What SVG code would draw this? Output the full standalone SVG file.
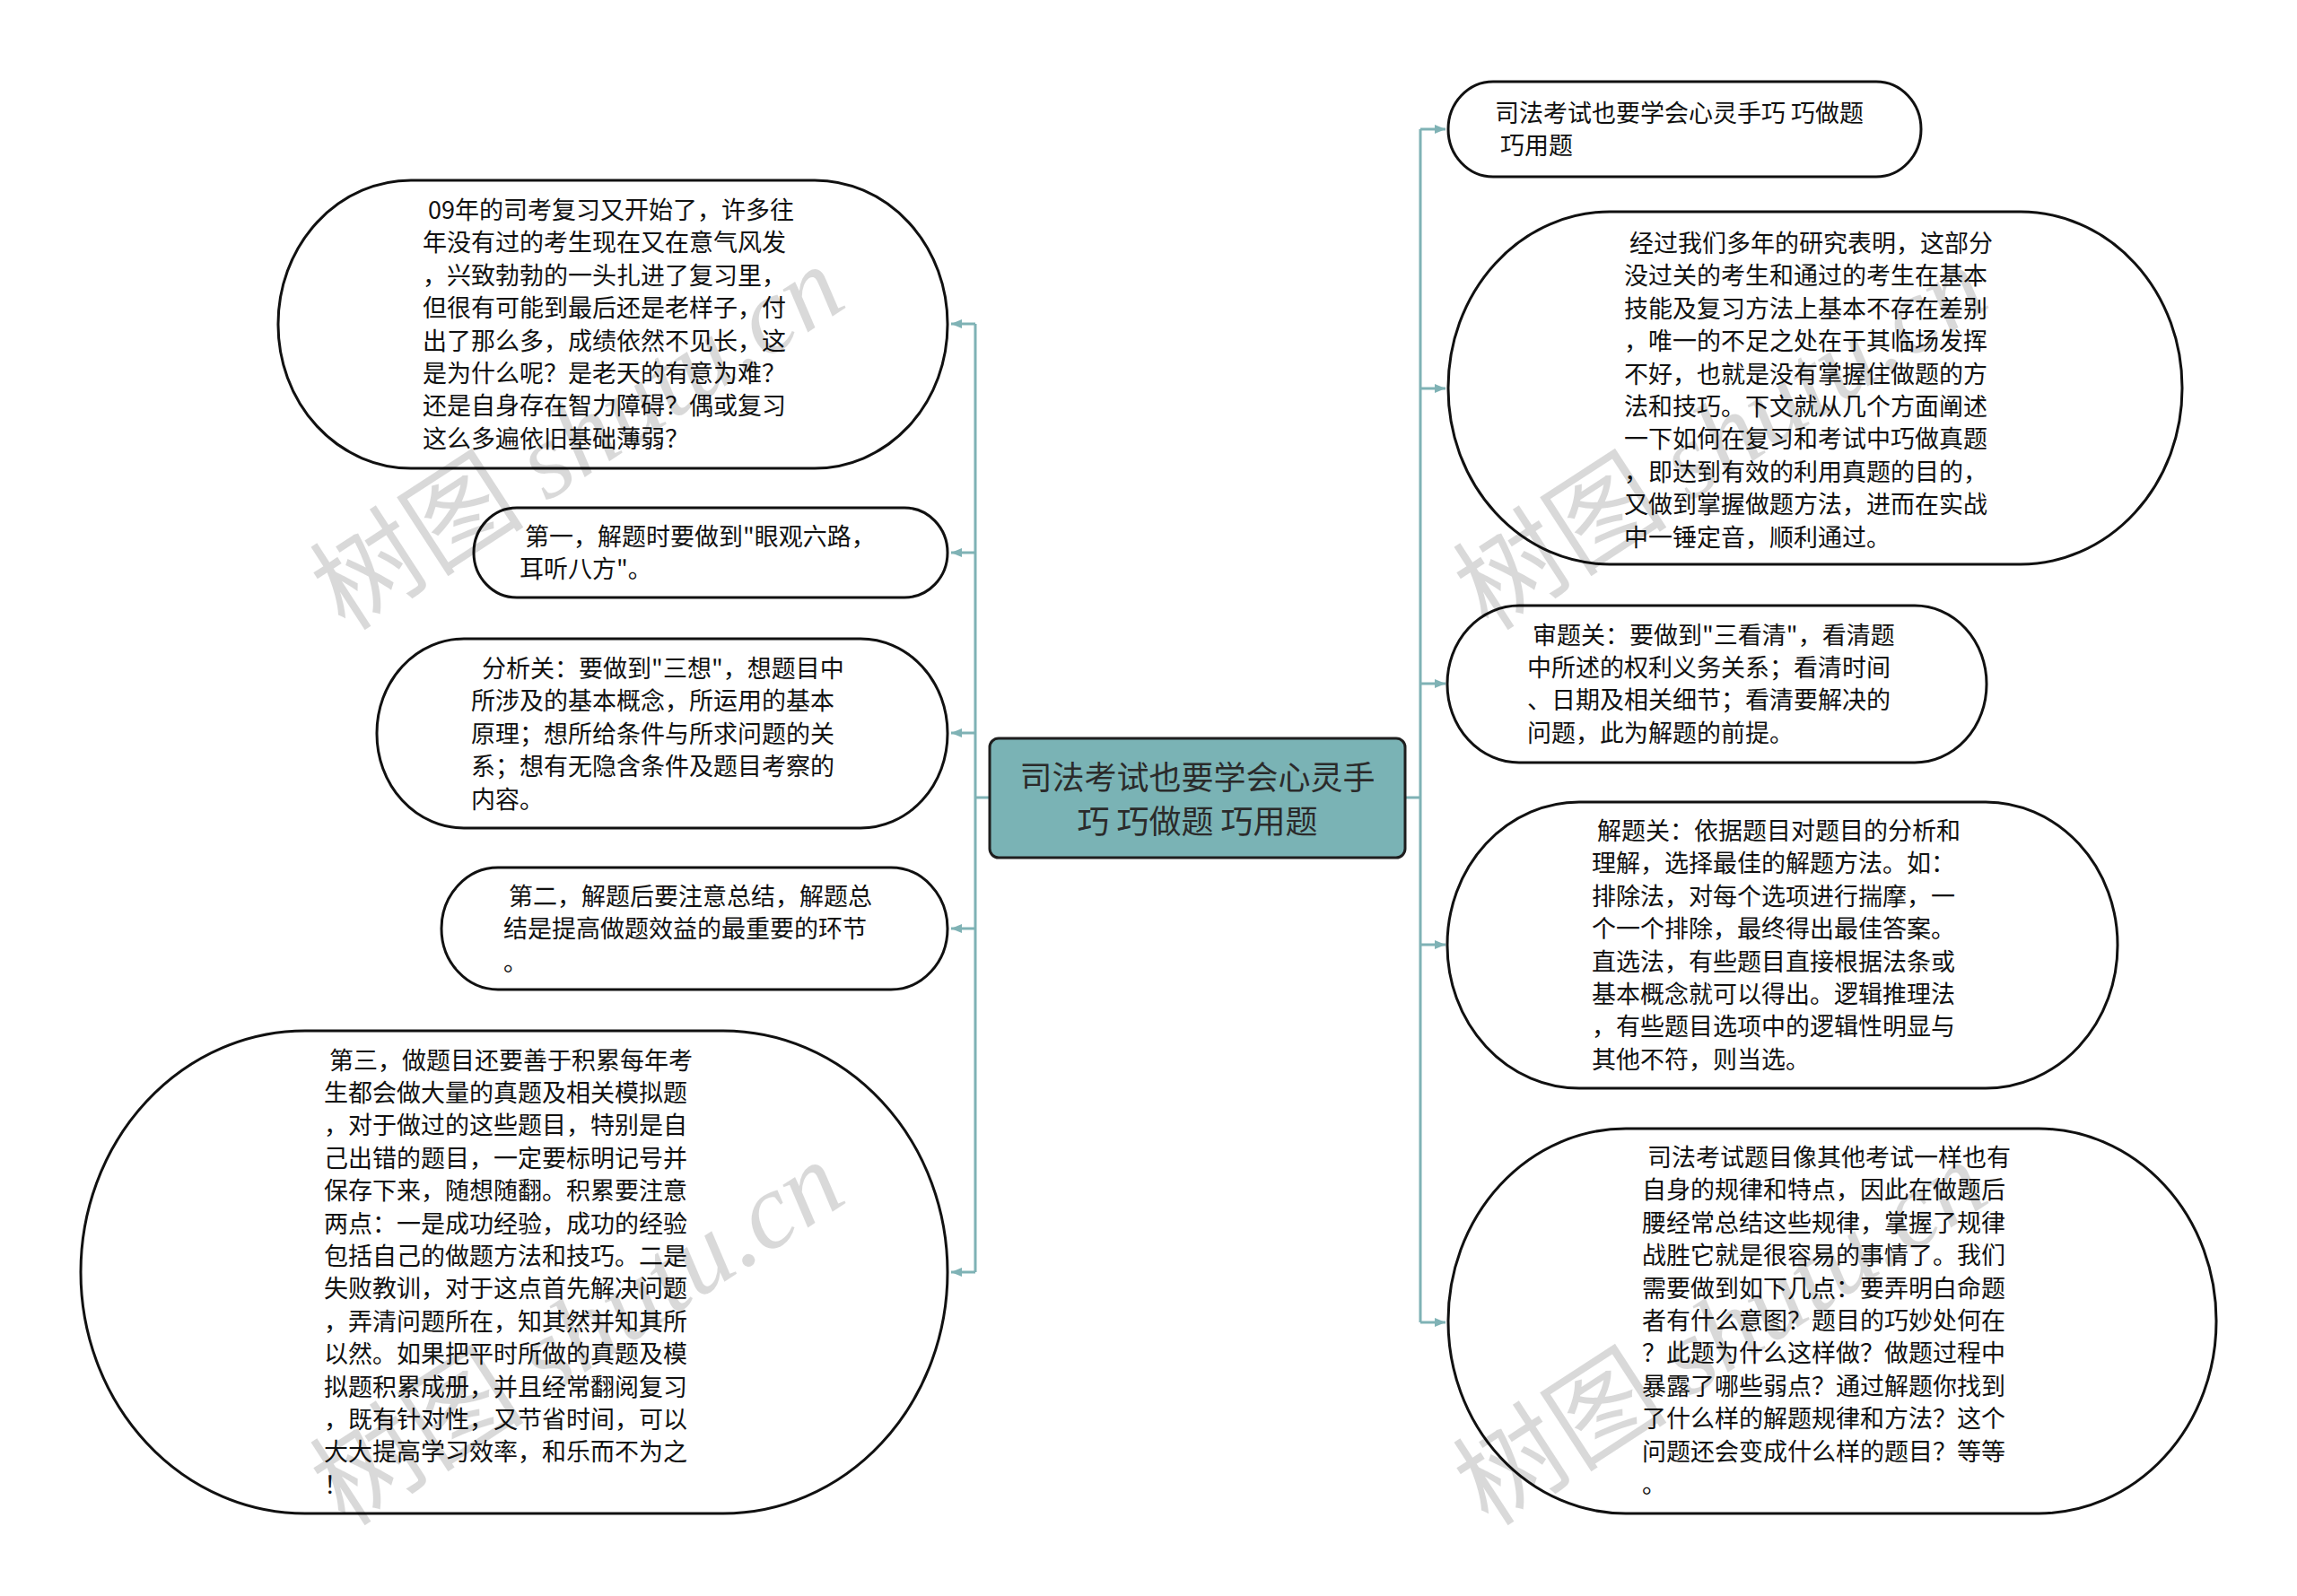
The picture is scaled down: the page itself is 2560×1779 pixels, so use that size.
<svg xmlns="http://www.w3.org/2000/svg" width="2560" height="1779" viewBox="0 0 2560 1779">
<style>
.node{fill:#fff;stroke:#111;stroke-width:3}
.t{font-family:"Noto Sans CJK SC","Noto Sans",sans-serif;font-size:27px;fill:#111}
.ct{font-family:"Noto Sans CJK SC","Noto Sans",sans-serif;font-size:36px;fill:#2b2b2b;text-anchor:middle}
.c{fill:none;stroke:#7fb2b5;stroke-width:3}
.wm{font-family:"Noto Sans CJK SC","Liberation Serif",serif;font-size:120px;fill:#000;fill-opacity:0.15}
.wm tspan.en{font-family:"Liberation Serif",serif;font-style:italic}
</style>
<defs>
<marker id="ah" markerWidth="12" markerHeight="10" refX="12" refY="5" orient="auto" markerUnits="userSpaceOnUse">
<path d="M0,0 L12,5 L0,10 z" fill="#7fb2b5"/>
</marker>
</defs>
<rect width="2560" height="1779" fill="#fff"/>
<g id="connectors">
<path class="c" d="M1087,361 V1418 M1087,889 H1103"/>
<path class="c" d="M1087,361 H1060" marker-end="url(#ah)"/>
<path class="c" d="M1087,616 H1060" marker-end="url(#ah)"/>
<path class="c" d="M1087,817 H1060" marker-end="url(#ah)"/>
<path class="c" d="M1087,1035 H1060" marker-end="url(#ah)"/>
<path class="c" d="M1087,1418 H1060" marker-end="url(#ah)"/>
<path class="c" d="M1583,144 V1474 M1566,889 H1583"/>
<path class="c" d="M1583,144 H1611" marker-end="url(#ah)"/>
<path class="c" d="M1583,433 H1611" marker-end="url(#ah)"/>
<path class="c" d="M1583,762 H1611" marker-end="url(#ah)"/>
<path class="c" d="M1583,1053 H1611" marker-end="url(#ah)"/>
<path class="c" d="M1583,1474 H1611" marker-end="url(#ah)"/>
</g>
<g id="center">
<rect x="1103" y="823" width="463" height="133" rx="10" ry="10" fill="#7ab3b5" stroke="#1e1e1e" stroke-width="3"/>
<text class="ct" x="1334.5" y="880">司法考试也要学会心灵手</text>
<text class="ct" x="1334.5" y="929">巧 巧做题 巧用题</text>
</g>
<g id="n-l1">
<rect class="node" x="310" y="201" width="746" height="321" rx="148" ry="160"/>
<text class="t" xml:space="preserve"><tspan x="471" y="244"> 09年的司考复习又开始了，许多往</tspan><tspan x="471" y="280.4">年没有过的考生现在又在意气风发</tspan><tspan x="471" y="316.8">，兴致勃勃的一头扎进了复习里，</tspan><tspan x="471" y="353.2">但很有可能到最后还是老样子，付</tspan><tspan x="471" y="389.6">出了那么多，成绩依然不见长，这</tspan><tspan x="471" y="426">是为什么呢？是老天的有意为难？</tspan><tspan x="471" y="462.4">还是自身存在智力障碍？偶或复习</tspan><tspan x="471" y="498.8">这么多遍依旧基础薄弱？</tspan></text>
</g>
<g id="n-l2">
<rect class="node" x="528" y="566" width="528" height="100" rx="48" ry="50"/>
<text class="t" xml:space="preserve"><tspan x="579" y="607.5"> 第一，解题时要做到"眼观六路，</tspan><tspan x="579" y="643.9">耳听八方"。</tspan></text>
</g>
<g id="n-l3">
<rect class="node" x="420" y="712" width="636" height="211" rx="97" ry="105"/>
<text class="t" xml:space="preserve"><tspan x="525" y="755">  分析关：要做到"三想"，想题目中</tspan><tspan x="525" y="791.4">所涉及的基本概念，所运用的基本</tspan><tspan x="525" y="827.8">原理；想所给条件与所求问题的关</tspan><tspan x="525" y="864.2">系；想有无隐含条件及题目考察的</tspan><tspan x="525" y="900.6">内容。</tspan></text>
</g>
<g id="n-l4">
<rect class="node" x="492" y="967" width="564" height="136" rx="63" ry="68"/>
<text class="t" xml:space="preserve"><tspan x="561" y="1009"> 第二，解题后要注意总结，解题总</tspan><tspan x="561" y="1045.4">结是提高做题效益的最重要的环节</tspan><tspan x="561" y="1081.8">。</tspan></text>
</g>
<g id="n-l5">
<rect class="node" x="90" y="1149" width="966" height="538" rx="250" ry="269"/>
<text class="t" xml:space="preserve"><tspan x="361" y="1191.5"> 第三，做题目还要善于积累每年考</tspan><tspan x="361" y="1227.9">生都会做大量的真题及相关模拟题</tspan><tspan x="361" y="1264.3">，对于做过的这些题目，特别是自</tspan><tspan x="361" y="1300.7">己出错的题目，一定要标明记号并</tspan><tspan x="361" y="1337.1">保存下来，随想随翻。积累要注意</tspan><tspan x="361" y="1373.5">两点：一是成功经验，成功的经验</tspan><tspan x="361" y="1409.9">包括自己的做题方法和技巧。二是</tspan><tspan x="361" y="1446.3">失败教训，对于这点首先解决问题</tspan><tspan x="361" y="1482.7">，弄清问题所在，知其然并知其所</tspan><tspan x="361" y="1519.1">以然。如果把平时所做的真题及模</tspan><tspan x="361" y="1555.5">拟题积累成册，并且经常翻阅复习</tspan><tspan x="361" y="1591.9">，既有针对性，又节省时间，可以</tspan><tspan x="361" y="1628.3">大大提高学习效率，和乐而不为之</tspan><tspan x="361" y="1664.7">！</tspan></text>
</g>
<g id="n-r1">
<rect class="node" x="1614" y="91" width="527" height="106" rx="50" ry="53"/>
<text class="t" xml:space="preserve"><tspan x="1666" y="136">司法考试也要学会心灵手巧 巧做题</tspan><tspan x="1666" y="172.4"> 巧用题</tspan></text>
</g>
<g id="n-r2">
<rect class="node" x="1614" y="236" width="818" height="393" rx="180" ry="196"/>
<text class="t" xml:space="preserve"><tspan x="1810" y="281"> 经过我们多年的研究表明，这部分</tspan><tspan x="1810" y="317.4">没过关的考生和通过的考生在基本</tspan><tspan x="1810" y="353.8">技能及复习方法上基本不存在差别</tspan><tspan x="1810" y="390.2">，唯一的不足之处在于其临场发挥</tspan><tspan x="1810" y="426.6">不好，也就是没有掌握住做题的方</tspan><tspan x="1810" y="463">法和技巧。下文就从几个方面阐述</tspan><tspan x="1810" y="499.4">一下如何在复习和考试中巧做真题</tspan><tspan x="1810" y="535.8">，即达到有效的利用真题的目的，</tspan><tspan x="1810" y="572.2">又做到掌握做题方法，进而在实战</tspan><tspan x="1810" y="608.6">中一锤定音，顺利通过。</tspan></text>
</g>
<g id="n-r3">
<rect class="node" x="1613" y="675" width="601" height="175" rx="80" ry="87"/>
<text class="t" xml:space="preserve"><tspan x="1702" y="717.5"> 审题关：要做到"三看清"，看清题</tspan><tspan x="1702" y="753.9">中所述的权利义务关系；看清时间</tspan><tspan x="1702" y="790.3">、日期及相关细节；看清要解决的</tspan><tspan x="1702" y="826.7">问题，此为解题的前提。</tspan></text>
</g>
<g id="n-r4">
<rect class="node" x="1613" y="894" width="747" height="319" rx="147" ry="159"/>
<text class="t" xml:space="preserve"><tspan x="1774" y="936"> 解题关：依据题目对题目的分析和</tspan><tspan x="1774" y="972.4">理解，选择最佳的解题方法。如：</tspan><tspan x="1774" y="1008.8">排除法，对每个选项进行揣摩，一</tspan><tspan x="1774" y="1045.2">个一个排除，最终得出最佳答案。</tspan><tspan x="1774" y="1081.6">直选法，有些题目直接根据法条或</tspan><tspan x="1774" y="1118">基本概念就可以得出。逻辑推理法</tspan><tspan x="1774" y="1154.4">，有些题目选项中的逻辑性明显与</tspan><tspan x="1774" y="1190.8">其他不符，则当选。</tspan></text>
</g>
<g id="n-r5">
<rect class="node" x="1614" y="1258" width="856" height="429" rx="198" ry="214"/>
<text class="t" xml:space="preserve"><tspan x="1830" y="1300"> 司法考试题目像其他考试一样也有</tspan><tspan x="1830" y="1336.4">自身的规律和特点，因此在做题后</tspan><tspan x="1830" y="1372.8">腰经常总结这些规律，掌握了规律</tspan><tspan x="1830" y="1409.2">战胜它就是很容易的事情了。我们</tspan><tspan x="1830" y="1445.6">需要做到如下几点：要弄明白命题</tspan><tspan x="1830" y="1482">者有什么意图？题目的巧妙处何在</tspan><tspan x="1830" y="1518.4">？此题为什么这样做？做题过程中</tspan><tspan x="1830" y="1554.8">暴露了哪些弱点？通过解题你找到</tspan><tspan x="1830" y="1591.2">了什么样的解题规律和方法？这个</tspan><tspan x="1830" y="1627.6">问题还会变成什么样的题目？等等</tspan><tspan x="1830" y="1664">。</tspan></text>
</g>
<g id="watermarks">
<text class="wm" transform="translate(385,705) rotate(-33)">树图 <tspan class="en">shutu.cn</tspan></text>
<text class="wm" transform="translate(385,1703) rotate(-33)">树图 <tspan class="en">shutu.cn</tspan></text>
<text class="wm" transform="translate(1659,705) rotate(-33)">树图 <tspan class="en">shutu.cn</tspan></text>
<text class="wm" transform="translate(1659,1703) rotate(-33)">树图 <tspan class="en">shutu.cn</tspan></text>
</g>
</svg>
